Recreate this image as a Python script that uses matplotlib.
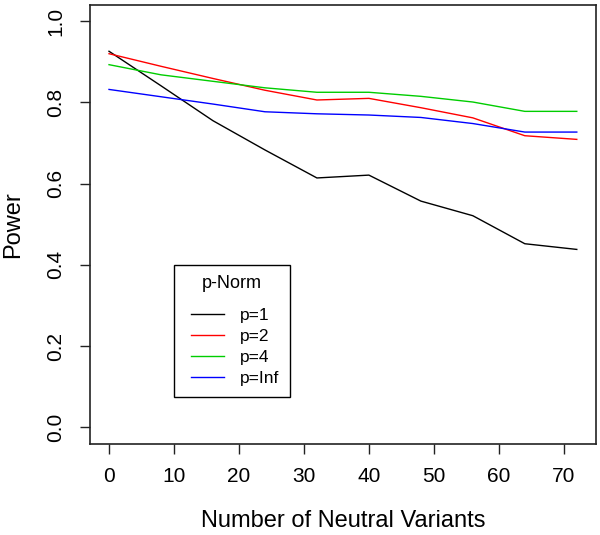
import numpy as np
import matplotlib
matplotlib.use("Agg")
import matplotlib.pyplot as plt
from matplotlib.legend_handler import HandlerLine2D

plt.rcParams['font.family'] = ['Liberation Sans', 'DejaVu Sans']

# number of neutral variants
n_neutral = [0, 8, 16, 24, 32, 40, 48, 56, 64, 72]

# power for each p-norm
power_p1 = [0.926, 0.841, 0.755, 0.683, 0.614, 0.621, 0.557, 0.521, 0.452, 0.438]
power_p2 = [0.920, 0.889, 0.859, 0.830, 0.806, 0.810, 0.787, 0.762, 0.718, 0.709]
power_p4 = [0.893, 0.868, 0.852, 0.836, 0.825, 0.825, 0.815, 0.801, 0.778, 0.778]
power_pinf = [0.832, 0.814, 0.796, 0.777, 0.772, 0.769, 0.763, 0.748, 0.727, 0.727]

labels = ['p=1', 'p=2', 'p=4', 'p=Inf']
colors = ['black', '#FF0000', '#00CD00', '#0000FF']


# legend line drawn a bit in from the left edge, like R's legend()
class ShiftedLine(HandlerLine2D):
    def create_artists(self, legend, orig_handle, xdescent, ydescent,
                       width, height, fontsize, trans):
        off = 0.35 * fontsize
        return super().create_artists(legend, orig_handle, xdescent - off, ydescent,
                                      width - off, height, fontsize, trans)


fig = plt.figure(figsize=(6.0, 5.35), dpi=100)
ax = fig.add_axes([0.1505, 0.171, 0.842, 0.8197])

lines = []
for ys, lab, c in zip([power_p1, power_p2, power_p4, power_pinf], labels, colors):
    ln, = ax.plot(n_neutral, ys, color=c, linewidth=1.0, label=lab)
    lines.append(ln)

# R style limits (4% extension)
ax.set_xlim(-2.88, 74.88)
ax.set_ylim(-0.04, 1.04)
ax.set_xticks(np.arange(0, 71, 10))
ax.set_yticks(np.arange(0, 1.01, 0.2))
ax.set_yticklabels(['%.1f' % v for v in np.arange(0, 1.01, 0.2)], rotation=90, va='center')

for s in ax.spines.values():
    s.set_linewidth(1.2)
    s.set_color('#222222')
ax.tick_params(axis='both', direction='out', length=7.5, width=1.0, labelsize=15, color='#222222')
ax.tick_params(axis='x', pad=9.5)
ax.tick_params(axis='y', pad=10.8)

ax.set_xlabel('Number of Neutral Variants', fontsize=17, labelpad=17)
ax.set_ylabel('Power', fontsize=17, labelpad=15.5)

hmap = {ln: ShiftedLine() for ln in lines}
leg = ax.legend(title='p-Norm', loc='upper left', bbox_to_anchor=(0.166, 0.407),
                fontsize=12.5, title_fontsize=13, frameon=True, fancybox=False,
                framealpha=1, edgecolor='black', handlelength=2.25, handletextpad=0.95,
                labelspacing=0.35, borderpad=0.6, borderaxespad=0, handler_map=hmap)
leg.get_frame().set_linewidth(1.0)
# extra room between the title and the entries
leg._legend_box.sep = 0.35 * 12.5 + 6.5

fig.savefig('out.png', dpi=100)
